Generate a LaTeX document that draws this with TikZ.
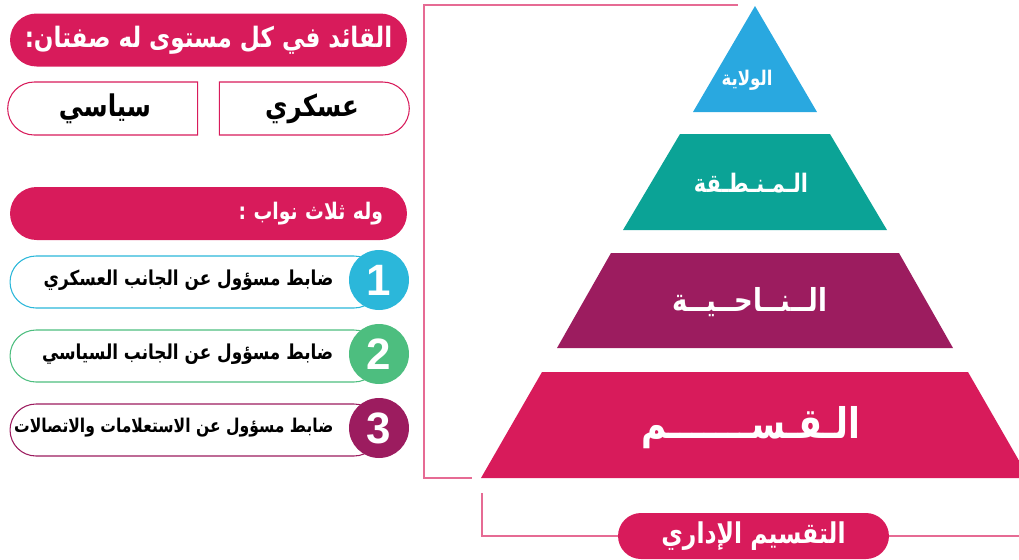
\documentclass[tikz,border=0pt]{standalone}
\usepackage{fontspec}
\setmainfont{DejaVu Sans}
\newfontfamily\arabicfont[Script=Arabic, FakeStretch=0.82]{DejaVu Sans}
\newfontfamily\numfont{Liberation Sans}
\TeXXeTstate=1
\usetikzlibrary{positioning, shapes.misc}
\definecolor{rubyred}{RGB}{216,27,91}
\definecolor{skyblue}{RGB}{41,168,224}
\definecolor{seateal}{RGB}{11,163,150}
\definecolor{plum}{RGB}{156,28,95}
\definecolor{aqua}{RGB}{43,183,218}
\definecolor{mint}{RGB}{77,190,127}
\newcommand{\rtl}[1]{\beginR #1\endR}

\begin{document}
\begin{tikzpicture}[x=0.02cm, y=-0.02cm,
  pill/.style={fill=rubyred, text=white, rounded corners=0.53cm,
    minimum width=7.94cm, minimum height=1.06cm, inner sep=0pt,
    font=\arabicfont\bfseries\fontsize{16}{19}\selectfont},
  tagbox/.style={rounded rectangle, draw=rubyred, line width=0.6pt,
    fill=white, minimum width=3.8cm, minimum height=1.06cm, inner sep=0pt,
    font=\arabicfont\bfseries\fontsize{17}{20}\selectfont},
  dutybox/.style={draw, line width=0.6pt, fill=white, rounded corners=0.52cm,
    minimum width=7.4cm, minimum height=1.04cm},
  numdisk/.style={circle, minimum size=1.2cm, inner sep=0pt, text=white,
    font=\numfont\bfseries\fontsize{25}{27}\selectfont},
  duty/.style={inner sep=0pt,
    font=\arabicfont\bfseries\fontsize{11.7}{14}\selectfont},
  tier/.style={text=white, inner sep=0pt, font=\arabicfont\bfseries},
  frameline/.style={draw=rubyred!65, line width=0.7pt}
]
\useasboundingbox (0,0) rectangle (1019,559);

% Leader
\node[pill] (leader) at (208.5,40) {\rtl{القائد في كل مستوى له صفتان:}};
\node[tagbox, rounded rectangle right arc=none] (pol) at (105,108.5)
  {\rtl{سياسي}};
\node[tagbox, rounded rectangle left arc=none] (mil) at (312,108.5)
  {\rtl{عسكري}};

% Deputies
\node[pill, text width=6.98cm, align=right,
  font=\arabicfont\bfseries\fontsize{13}{16}\selectfont] (deps)
  at (208.5,213.5) {\rtl{وله ثلاث نواب :}};
\node[dutybox, draw=aqua] (b1) at (195,282) {};
\node[dutybox, draw=mint] (b2) at (195,356) {};
\node[dutybox, draw=plum] (b3) at (195,430) {};
\node[numdisk, fill=aqua] (n1) at (379,280) {1};
\node[numdisk, fill=mint] (n2) at (379,354) {2};
\node[numdisk, fill=plum] (n3) at (379,428) {3};
\node[duty, left=0.3cm of n1] (d1) {\rtl{ضابط مسؤول عن الجانب العسكري}};
\node[duty, left=0.3cm of n2] (d2) {\rtl{ضابط مسؤول عن الجانب السياسي}};
\node[duty, left=0.3cm of n3, font=\arabicfont\bfseries\fontsize{10.8}{13}\selectfont]
  (d3) {\rtl{ضابط مسؤول عن الاستعلامات والاتصالات}};

% Pyramid
\fill[skyblue] (755,6) -- (817,112) -- (693,112) -- cycle;
\fill[seateal] (680,134) -- (830,134) -- (887,230) -- (623,230) -- cycle;
\fill[plum] (611,253) -- (899,253) -- (953,348) -- (557,348) -- cycle;
\fill[rubyred] (542,372) -- (968,372) -- (1029,478) -- (481,478) -- cycle;
\node[tier, font=\arabicfont\bfseries\fontsize{11.5}{14}\selectfont]
  (wilaya) at (747,80) {\rtl{الولاية}};
\node[tier, font=\arabicfont\bfseries\fontsize{14.5}{17}\selectfont]
  (mintaqa) at (751,183) {\rtl{الـمـنـطـقة}};
\node[tier, font=\arabicfont\bfseries\fontsize{18}{21}\selectfont]
  (nahiya) at (750,302) {\rtl{الــنــاحــيــة}};
\node[tier, font=\arabicfont\bfseries\fontsize{24}{28}\selectfont]
  (qism) at (751,428) {\rtl{الـقـســـــــم}};

% Frame lines
\coordinate (topend) at (738,5);
\coordinate (corner) at (424,5);
\coordinate (botend) at (472,478);
\draw[frameline] (topend) -- (corner) |- (botend);
\node[pill, minimum width=5.42cm, minimum height=0.92cm, rounded corners=0.46cm,
  font=\arabicfont\bfseries\fontsize{16.3}{19}\selectfont]
  (division) at (753.5,536) {\rtl{التقسيم الإداري}};
\coordinate (lowtip) at (482,493);
\coordinate (rightend) at (1019,536);
\draw[frameline] (lowtip) |- (division);
\draw[frameline] (division) -- (rightend);
\end{tikzpicture}
\end{document}
